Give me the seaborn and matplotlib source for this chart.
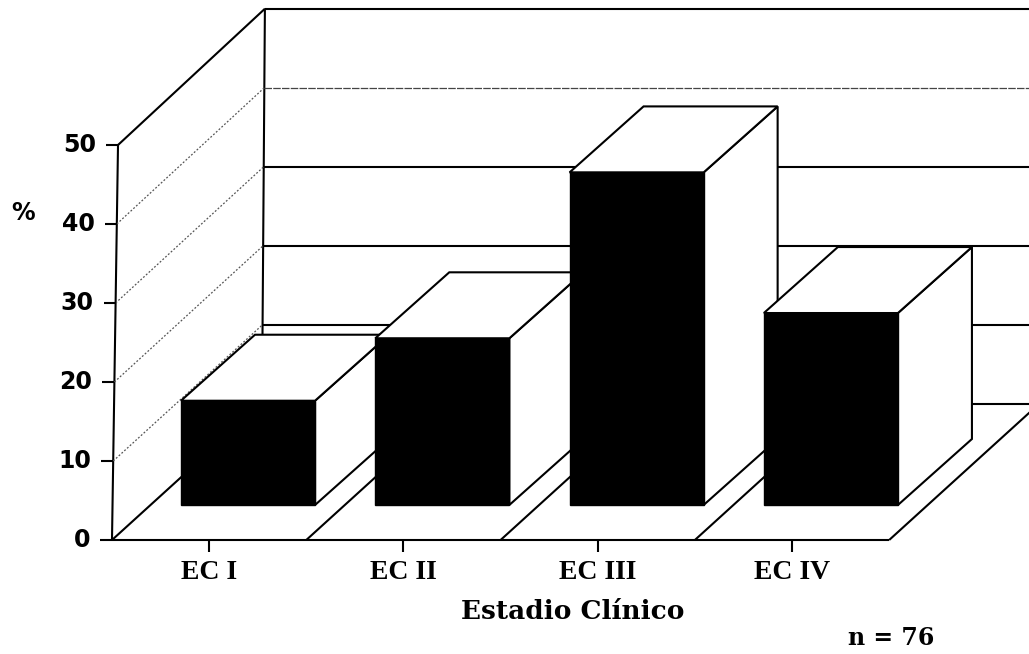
import matplotlib
matplotlib.use("Agg")
import matplotlib.pyplot as plt
import pandas as pd
import seaborn as sns
from matplotlib.patches import Polygon

categories = ["EC I", "EC II", "EC III", "EC IV"]
percent = [13.2, 21.1, 42.1, 24.3]
y_ticks = [0, 10, 20, 30, 40, 50]
y_label = "%"
x_label = "Estadio Clínico"
note = "n = 76"

# the axes fills the figure, 1 category = 194.3 px and 1 % = 7.9 px
PX_X = 194.3
PX_Y = 7.9
FLOOR = -4.43            # front edge of the floor, bars stand further back at 0
WALL_DEPTH = 17.25       # floor depth, in % units
BAR_DX = 74 / PX_X       # bar depth
BAR_DY = 66 / PX_Y
LEFT, RIGHT = -0.70, 3.30
BACK_X = 0.072


def front_x(v):
    return LEFT + 0.00062 * v


def back_x(v):
    return BACK_X + 0.0003 * v


sns.set_theme(style="white")
fig = plt.figure(figsize=(10.29, 6.54), dpi=100)
ax = fig.add_axes([0, 0, 1, 1])

df = pd.DataFrame({"stage": categories, "percent": percent})
sns.barplot(df, x="stage", y="percent", color="black", saturation=1, width=0.69,
            edgecolor="black", linewidth=1.0, ax=ax)

x_max = (1029 - 248) / PX_X
ax.set_xlim(-248 / PX_X, x_max)
ax.set_ylim(-149 / PX_Y, 505 / PX_Y)
ax.set_axis_off()

line = dict(color="black", lw=1.5, solid_capstyle="butt")
top = y_ticks[-1]

# walls
ax.plot([front_x(0), front_x(top)], [FLOOR, FLOOR + top], **line)
ax.plot([back_x(0), back_x(top)], [FLOOR + WALL_DEPTH, FLOOR + WALL_DEPTH + top], **line)
ax.plot([front_x(top), back_x(top)], [FLOOR + top, FLOOR + WALL_DEPTH + top], **line)

for t in y_ticks:
    if t == 40:
        # this one is faint and broken up in the scan
        ax.plot([back_x(t), x_max], [FLOOR + WALL_DEPTH + t] * 2, color="#444444",
                lw=0.9, ls=(0, (6, 1)))
    else:
        ax.plot([back_x(t), x_max], [FLOOR + WALL_DEPTH + t] * 2, **line)
    if 0 < t < top:
        ax.plot([front_x(t), back_x(t)], [FLOOR + t, FLOOR + WALL_DEPTH + t],
                color="#555555", lw=0.9, ls=(0, (1.5, 1.5)))
    ax.plot([front_x(t) - 12 / PX_X, front_x(t)], [FLOOR + t] * 2, **line)
    ax.text(front_x(t) - 22 / PX_X, FLOOR + t, str(t), ha="right", va="center",
            fontsize=17, fontweight="bold", family="DejaVu Sans", color="black")

# floor
ax.plot([LEFT, RIGHT], [FLOOR, FLOOR], **line)
for i in range(len(categories) + 1):
    x0 = LEFT + i * (RIGHT - LEFT) / len(categories)
    if i == 0:
        ax.plot([x0, BACK_X], [FLOOR, FLOOR + WALL_DEPTH], **line)
    else:
        ax.plot([x0, x0 + 150 / PX_X], [FLOOR, FLOOR + WALL_DEPTH], **line)

# extrude the bars, later bars overlap the earlier ones
bars = list(ax.containers[0])
for i, bar in enumerate(bars):
    x0 = bar.get_x()
    x1 = x0 + bar.get_width()
    h = bar.get_height()
    side = [(x1, 0), (x1 + BAR_DX, BAR_DY), (x1 + BAR_DX, h + BAR_DY), (x1, h)]
    lid = [(x0, h), (x0 + BAR_DX, h + BAR_DY), (x1 + BAR_DX, h + BAR_DY), (x1, h)]
    for pts in (side, lid):
        ax.add_patch(Polygon(pts, closed=True, facecolor="white", edgecolor="black",
                             lw=1.5, zorder=3 + i))
    bar.set_zorder(10)

# category ticks and labels
for i, name in enumerate(categories):
    ax.plot([i - 0.2, i - 0.2], [FLOOR, FLOOR - 12 / PX_Y], **line)
    ax.text(i - 0.2, -8.6, name, ha="center", va="center", fontsize=20,
            fontweight="bold", family="Liberation Serif", color="black")

ax.text(1.67, -13.5, x_label, ha="center", va="center", fontsize=19,
        fontweight="bold", family="DejaVu Serif", color="black")
ax.text(3.31, -16.8, note, ha="center", va="center", fontsize=17,
        fontweight="bold", family="DejaVu Serif", color="black")
ax.text(-1.16, 37.0, y_label, ha="center", va="center", fontsize=17,
        fontweight="bold", family="DejaVu Sans", color="black")

fig.savefig("out.png", dpi=100)
